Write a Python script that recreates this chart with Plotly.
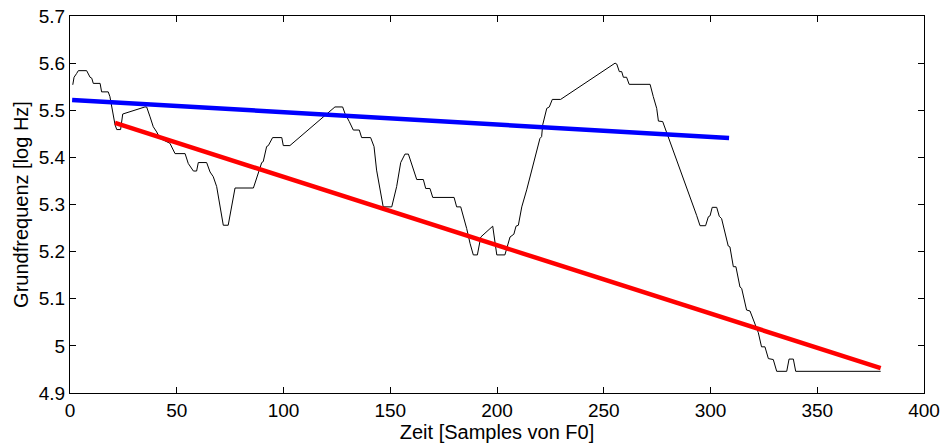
import plotly.graph_objects as go

# F0 contour (black)
f0_x = [1.3, 1.9, 3.1, 3.9, 7.8, 8.6, 9.4, 10.2, 10.9, 14.1, 14.8, 17.9, 18.7, 21.1, 21.9, 23.7, 24.7,
        35.1, 35.9, 37.5, 39.0, 40.6, 42.2, 46.8, 49.2, 53.9, 55.4, 57.8, 59.3, 60.1, 64.0, 65.6, 67.1,
        68.7, 69.9, 71.8, 74.1, 76.5, 77.3, 85.9, 87.4, 89.8, 90.5, 92.1, 92.9, 94.9, 99.2, 99.9, 103.0,
        124.1, 127.7, 128.8, 130.8, 132.7, 135.5, 136.6, 140.8, 142.4, 143.6, 145.2, 146.7, 150.7, 153.0,
        154.9, 156.9, 158.5, 160.8, 162.4, 165.5, 166.6, 168.6, 169.9, 179.9, 181.1, 183.0, 184.2, 185.8,
        187.4, 188.9, 190.8, 192.4, 198.0, 199.9, 203.7, 206.1, 207.9, 208.9, 210.0, 211.6, 213.9, 215.8,
        217.8, 220.1, 220.9, 221.4, 223.3, 224.5, 225.9, 229.8, 255.3, 256.1, 257.3, 258.4, 259.2, 260.7,
        261.9, 271.7, 273.2, 274.8, 275.6, 277.6, 293.5, 295.1, 297.7, 299.0, 299.8, 300.8, 302.9, 304.1,
        305.2, 308.3, 309.1, 310.7, 311.9, 313.8, 314.6, 316.9, 318.5, 320.8, 322.4, 323.9, 325.5, 327.1,
        329.4, 331.0, 335.7, 336.8, 338.8, 339.9, 379.7]
f0_y = [5.554, 5.570, 5.578, 5.584, 5.584, 5.578, 5.570, 5.568, 5.557, 5.557, 5.539, 5.539, 5.529, 5.469,
        5.459, 5.459, 5.492, 5.507, 5.507, 5.486, 5.465, 5.454, 5.440, 5.430, 5.408, 5.408, 5.387, 5.371,
        5.371, 5.389, 5.389, 5.369, 5.359, 5.338, 5.309, 5.256, 5.256, 5.320, 5.335, 5.335, 5.355, 5.389,
        5.391, 5.423, 5.425, 5.442, 5.442, 5.425, 5.425, 5.507, 5.507, 5.493, 5.476, 5.458, 5.458, 5.442,
        5.442, 5.423, 5.373, 5.331, 5.295, 5.295, 5.338, 5.389, 5.407, 5.407, 5.373, 5.353, 5.353, 5.334,
        5.334, 5.315, 5.315, 5.295, 5.295, 5.277, 5.249, 5.217, 5.193, 5.193, 5.231, 5.254, 5.193, 5.193,
        5.231, 5.237, 5.254, 5.256, 5.295, 5.331, 5.366, 5.401, 5.440, 5.444, 5.469, 5.504, 5.507, 5.523,
        5.523, 5.600, 5.598, 5.582, 5.582, 5.570, 5.570, 5.555, 5.555, 5.529, 5.504, 5.477, 5.476, 5.277,
        5.255, 5.255, 5.274, 5.276, 5.294, 5.294, 5.275, 5.270, 5.212, 5.210, 5.168, 5.168, 5.125, 5.122,
        5.076, 5.074, 5.048, 5.028, 4.998, 4.998, 4.973, 4.971, 4.946, 4.946, 4.972, 4.972, 4.946, 4.946]

# Regression lines
blue_x = [1.0, 308.7]
blue_y = [5.522, 5.441]
red_x = [21.1, 379.7]
red_y = [5.473, 4.953]

x_ticks = [0, 50, 100, 150, 200, 250, 300, 350, 400]
y_ticks = [4.9, 5.0, 5.1, 5.2, 5.3, 5.4, 5.5, 5.6, 5.7]
y_tick_text = ["4.9", "5", "5.1", "5.2", "5.3", "5.4", "5.5", "5.6", "5.7"]

FONT = "Liberation Sans, Arial, Helvetica, sans-serif"

fig = go.Figure()
fig.add_trace(go.Scatter(x=f0_x, y=f0_y, mode="lines",
                         line=dict(color="black", width=1), showlegend=False))
fig.add_trace(go.Scatter(x=blue_x, y=blue_y, mode="lines",
                         line=dict(color="#0000ff", width=4.5), showlegend=False))
fig.add_trace(go.Scatter(x=red_x, y=red_y, mode="lines",
                         line=dict(color="#ff0000", width=4.5), showlegend=False))

axis_common = dict(showgrid=False, zeroline=False, showline=True, linecolor="black",
                   linewidth=1, mirror="ticks", ticks="inside", ticklen=6,
                   tickcolor="black", tickwidth=1, automargin=False,
                   tickfont=dict(family=FONT, size=19, color="black"))

fig.update_xaxes(range=[0, 400], tickvals=x_ticks, ticktext=[str(v) for v in x_ticks],
                 title=dict(text="Zeit [Samples von F0]", standoff=0,
                            font=dict(family=FONT, size=20, color="black")),
                 **axis_common)
fig.update_yaxes(range=[4.9, 5.7], tickvals=y_ticks, ticktext=y_tick_text,
                 title=dict(text="Grundfrequenz [log Hz]", standoff=4,
                            font=dict(family=FONT, size=20, color="black")),
                 **axis_common)

fig.update_layout(width=941, height=444,
                  margin=dict(l=70, r=17, t=16, b=51, pad=0, autoexpand=False),
                  plot_bgcolor="white", paper_bgcolor="white",
                  font=dict(family=FONT, size=19, color="black"))

fig.write_html("out.html")
